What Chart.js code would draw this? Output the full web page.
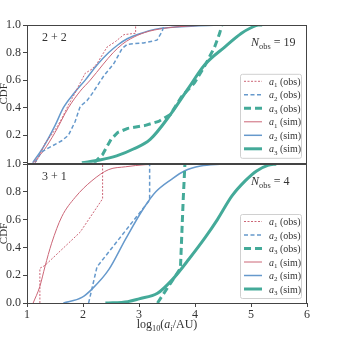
<!DOCTYPE html>
<html lang="en">
<head>
<meta charset="UTF-8">
<title>CDF of log10(a_i/AU)</title>
<script src="https://cdn.jsdelivr.net/npm/chart.js"></script>
<style>
  body { margin: 0; background: #fff; }
  #wrap { position: relative; width: 343px; height: 343px; overflow: hidden; }
  canvas { position: absolute; left: 0; }
  #topChart { top: 0; }
  #bottomChart { top: 150px; }
</style>
</head>
<body>
<div id="wrap">
  <canvas id="topChart" width="343" height="172"></canvas>
  <canvas id="bottomChart" width="343" height="193"></canvas>
</div>
<script>
// ---- top panel: 2+2, N_obs = 19 ----
const top_a1_obs_x = [1.15, 1.22, 1.32, 1.45, 1.55, 1.62, 1.74, 1.85, 1.95, 2.04, 2.16, 2.25, 2.37, 2.43, 2.58, 2.73, 2.94, 2.94];
const top_a1_obs_y = [0, 0.05, 0.14, 0.21, 0.27, 0.32, 0.42, 0.50, 0.58, 0.65, 0.68, 0.72, 0.80, 0.84, 0.88, 0.93, 0.94, 1.0];
const top_a2_obs_x = [1.14, 1.26, 1.44, 1.62, 1.74, 1.86, 1.95, 2.07, 2.16, 2.37, 2.55, 2.70, 2.79, 3.08, 3.32, 3.41, 3.44, 3.44];
const top_a2_obs_y = [0, 0.08, 0.12, 0.16, 0.20, 0.30, 0.41, 0.45, 0.50, 0.63, 0.72, 0.83, 0.86, 0.87, 0.89, 0.95, 0.99, 1.0];
const top_a3_obs_x = [2.2, 2.35, 2.5, 2.62, 2.8, 3.1, 3.35, 3.56, 3.76, 3.99, 4.17, 4.35, 4.44, 4.48];
const top_a3_obs_y = [0, 0.06, 0.17, 0.22, 0.25, 0.27, 0.30, 0.35, 0.48, 0.58, 0.70, 0.84, 0.94, 1.0];
const top_a1_sim_x = [1.11, 1.3, 1.5, 1.74, 1.95, 2.13, 2.35, 2.54, 2.7, 2.85, 3.1, 3.45, 4.0, 4.5];
const top_a1_sim_y = [0, 0.09, 0.22, 0.40, 0.52, 0.60, 0.71, 0.80, 0.86, 0.90, 0.945, 0.976, 0.995, 1.0];
const top_a2_sim_x = [1.1, 1.3, 1.5, 1.65, 1.85, 2.04, 2.25, 2.46, 2.62, 2.79, 3.0, 3.3, 4.0, 4.5];
const top_a2_sim_y = [0, 0.12, 0.27, 0.40, 0.51, 0.60, 0.71, 0.80, 0.855, 0.90, 0.935, 0.97, 0.993, 1.0];
const top_a3_sim_x = [1.98, 2.3, 2.6, 2.9, 3.2, 3.56, 3.88, 4.17, 4.53, 4.83, 5.0, 5.13, 5.2];
const top_a3_sim_y = [0, 0.02, 0.05, 0.10, 0.17, 0.35, 0.54, 0.71, 0.84, 0.94, 0.98, 1.0, 1.0];

// ---- bottom panel: 3+1, N_obs = 4 ----
const bot_a1_obs_x = [1.23, 1.23, 1.32, 1.95, 2.35, 2.35];
const bot_a1_obs_y = [0, 0.25, 0.27, 0.51, 0.75, 1.0];
const bot_a2_obs_x = [2.10, 2.25, 3.19, 3.19];
const bot_a2_obs_y = [0, 0.26, 0.74, 1.0];
const bot_a3_obs_x = [3.33, 3.74, 3.79, 3.82];
const bot_a3_obs_y = [0, 0.25, 0.75, 1.0];
const bot_a1_sim_x = [1.11, 1.23, 1.32, 1.44, 1.62, 1.86, 2.16, 2.46, 2.76, 3.11, 3.5];
const bot_a1_sim_y = [0, 0.12, 0.26, 0.43, 0.62, 0.76, 0.88, 0.96, 0.98, 0.995, 1.0];
const bot_a2_sim_x = [1.65, 1.98, 2.16, 2.46, 2.76, 3.08, 3.3, 3.58, 3.81, 4.1, 4.5];
const bot_a2_sim_y = [0, 0.04, 0.10, 0.24, 0.46, 0.68, 0.80, 0.89, 0.95, 0.985, 1.0];
const bot_a3_sim_x = [2.4, 2.8, 3.0, 3.33, 3.6, 3.9, 4.18, 4.4, 4.66, 4.9, 5.1, 5.3, 5.45];
const bot_a3_sim_y = [0, 0.01, 0.03, 0.07, 0.17, 0.32, 0.47, 0.60, 0.77, 0.88, 0.95, 0.99, 1.0];

const seriesLabels = ['a1 (obs)', 'a2 (obs)', 'a3 (obs)', 'a1 (sim)', 'a2 (sim)', 'a3 (sim)'];
const xTicks = [1, 2, 3, 4, 5, 6];
const yTicks = [0, 0.2, 0.4, 0.6, 0.8, 1.0];

const SERIF = '"Liberation Serif", "DejaVu Serif", serif';
const RED = '#cc6677', BLUE = '#6699cc', GREEN = '#44aa99';
const styles = [
    { borderColor: RED,   borderWidth: 1,   borderDash: [2, 1.5] },
    { borderColor: BLUE,  borderWidth: 1.5, borderDash: [4, 2.5] },
    { borderColor: GREEN, borderWidth: 3,   borderDash: [7, 4] },
    { borderColor: RED,   borderWidth: 1 },
    { borderColor: BLUE,  borderWidth: 1.5 },
    { borderColor: GREEN, borderWidth: 3 }
];

function pts(xs, ys) {
    return xs.map((x, i) => ({ x: x, y: ys[i] }));
}

function makeDatasets(pairs) {
    return pairs.map((p, i) => Object.assign({
        label: seriesLabels[i],
        data: pts(p[0], p[1]),
        showLine: true,
        fill: false,
        pointRadius: 0,
        borderCapStyle: 'butt',
        cubicInterpolationMode: i >= 3 ? 'monotone' : 'default',
        tension: 0
    }, styles[i]));
}

// text with italic and subscript pieces, y is the baseline
function drawRich(ctx, segs, x, y, size, align) {
    const parts = segs.map(s => {
        const fs = s.sub ? size * 0.7 : size;
        const font = (s.it ? 'italic ' : '') + fs + 'px ' + SERIF;
        ctx.font = font;
        return { t: s.t, font: font, w: ctx.measureText(s.t).width, dy: s.sub ? size * 0.22 : 0 };
    });
    const total = parts.reduce((a, p) => a + p.w, 0);
    let cx = align === 'right' ? x - total : align === 'center' ? x - total / 2 : x;
    ctx.textAlign = 'left';
    ctx.textBaseline = 'alphabetic';
    parts.forEach(p => {
        ctx.font = p.font;
        ctx.fillText(p.t, cx, y + p.dy);
        cx += p.w;
    });
}

function labelSegs(label) {
    // 'a1 (obs)' -> italic a, subscript 1, roman rest
    return [{ t: 'a', it: true }, { t: label[1], sub: true }, { t: label.slice(2) }];
}

const panelPlugin = {
    id: 'panel',
    afterDraw(chart, args, opts) {
        const ctx = chart.ctx, a = chart.chartArea;
        ctx.save();
        // frame
        ctx.strokeStyle = '#444';
        ctx.lineWidth = 1;
        ctx.strokeRect(Math.round(a.left) + 0.5, Math.round(a.top) + 0.5,
            Math.round(a.right - a.left) - 1, Math.round(a.bottom - a.top));

        ctx.fillStyle = '#333';
        drawRich(ctx, [{ t: opts.tag }], a.left + 15, a.top + 16, 12, 'left');
        drawRich(ctx, [{ t: 'N', it: true }, { t: 'obs', sub: true }, { t: ' = ' + opts.nobs }],
            a.left + 224, a.top + 21, 12, 'left');

        // y title
        ctx.save();
        ctx.translate(7, (a.top + a.bottom) / 2);
        ctx.rotate(-Math.PI / 2);
        ctx.font = '11px ' + SERIF;
        ctx.textAlign = 'center';
        ctx.textBaseline = 'alphabetic';
        ctx.fillText('CDF', 0, 0);
        ctx.restore();

        // legend box
        const bx = a.right - 67, by = a.bottom - 89, bw = 61, bh = 84;
        ctx.fillStyle = 'rgba(255,255,255,0.85)';
        ctx.strokeStyle = '#d0d0d0';
        ctx.beginPath();
        ctx.roundRect(bx + 0.5, by + 0.5, bw, bh, 2);
        ctx.fill();
        ctx.stroke();
        chart.data.datasets.forEach((ds, i) => {
            const ry = by + 7.5 + i * 13.5;
            ctx.strokeStyle = ds.borderColor;
            ctx.lineWidth = ds.borderWidth;
            ctx.setLineDash(ds.borderDash || []);
            ctx.beginPath();
            ctx.moveTo(bx + 4, ry);
            ctx.lineTo(bx + 22, ry);
            ctx.stroke();
            ctx.setLineDash([]);
            ctx.fillStyle = '#333';
            drawRich(ctx, labelSegs(ds.label), bx + 29, ry + 3.5, 10, 'left');
        });

        if (opts.xTitle) {
            ctx.fillStyle = '#333';
            drawRich(ctx, [{ t: 'log' }, { t: '10', sub: true }, { t: '(' }, { t: 'a', it: true },
                { t: 'i', it: true, sub: true }, { t: '/AU)' }],
                (a.left + a.right) / 2, a.bottom + 25, 12, 'center');
        }
        ctx.restore();
    }
};

Chart.defaults.font.family = SERIF;
Chart.defaults.font.size = 12;
Chart.defaults.color = '#333';

function yScale(hideZero) {
    return {
        type: 'linear', min: 0, max: 1,
        afterBuildTicks: s => { s.ticks = yTicks.map(v => ({ value: v })); },
        afterFit: s => { s.width = 27; },
        ticks: {
            padding: 2,
            callback: v => (hideZero && v === 0) ? '' : v.toFixed(1)
        },
        grid: { drawOnChartArea: false, drawTicks: true, tickLength: 4, color: '#444' },
        border: { display: false }
    };
}

function makeChart(id, pairs, opts) {
    return new Chart(document.getElementById(id), {
        type: 'scatter',
        data: { datasets: makeDatasets(pairs) },
        options: {
            responsive: false,
            animation: false,
            devicePixelRatio: 1,
            layout: { padding: opts.padding },
            plugins: {
                legend: { display: false },
                tooltip: { enabled: false },
                panel: { tag: opts.tag, nobs: opts.nobs, xTitle: opts.showX }
            },
            scales: {
                x: {
                    type: 'linear', min: 1, max: 6,
                    display: opts.showX,
                    afterBuildTicks: s => { s.ticks = xTicks.map(v => ({ value: v })); },
                    afterFit: s => { s.height = opts.showX ? 40 : 0; },
                    ticks: { padding: 1, maxRotation: 0, callback: v => String(v) },
                    grid: { drawOnChartArea: false, drawTicks: true, tickLength: 4, color: '#444' },
                    border: { display: false }
                },
                y: yScale(opts.hideZero)
            }
        },
        plugins: [panelPlugin]
    });
}

makeChart('topChart', [
    [top_a1_obs_x, top_a1_obs_y], [top_a2_obs_x, top_a2_obs_y], [top_a3_obs_x, top_a3_obs_y],
    [top_a1_sim_x, top_a1_sim_y], [top_a2_sim_x, top_a2_sim_y], [top_a3_sim_x, top_a3_sim_y]
], { tag: '2 + 2', nobs: '19', showX: false, hideZero: true, padding: { top: 25, right: 36, bottom: 8, left: 0 } });

makeChart('bottomChart', [
    [bot_a1_obs_x, bot_a1_obs_y], [bot_a2_obs_x, bot_a2_obs_y], [bot_a3_obs_x, bot_a3_obs_y],
    [bot_a1_sim_x, bot_a1_sim_y], [bot_a2_sim_x, bot_a2_sim_y], [bot_a3_sim_x, bot_a3_sim_y]
], { tag: '3 + 1', nobs: '4', showX: true, hideZero: false, padding: { top: 14, right: 36, bottom: 0, left: 0 } });
</script>
</body>
</html>
